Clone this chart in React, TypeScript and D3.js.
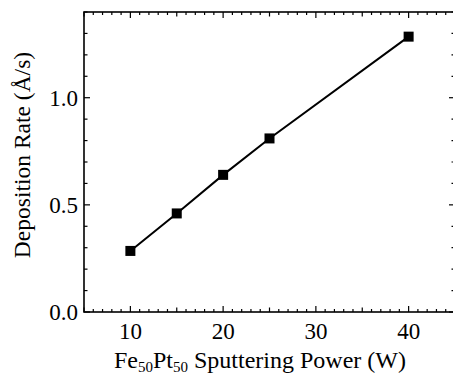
import { useRef, useEffect } from "react"
import * as d3 from "d3"

// data
const powerW = [10, 15, 20, 25, 40]
const rateAs = [0.285, 0.46, 0.64, 0.81, 1.285]
const xTicks = [10, 20, 30, 40]
const yTicks = [0.0, 0.5, 1.0]

const W = 453
const H = 377

const App = () => {
  const svgRef = useRef<SVGSVGElement>(null)

  useEffect(() => {
    const root = d3.select(svgRef.current)
    root.selectAll("*").remove()

    const left = 84, top = 12, right = 455, bottom = 312
    const font = "'Liberation Serif', 'Times New Roman', Times, serif"

    const x = d3.scaleLinear().domain([5, 45]).range([left, right])
    const y = d3.scaleLinear().domain([0, 1.4]).range([bottom, top])

    const g = root.append("g").attr("font-family", font)

    // frame
    g.append("rect")
      .attr("x", left).attr("y", top)
      .attr("width", right - left).attr("height", bottom - top)
      .attr("fill", "none").attr("stroke", "#000").attr("stroke-width", 1.6)

    // x ticks (inward, bottom + top)
    d3.range(5, 46, 1).forEach((v) => {
      const len = v % 10 === 0 ? 6 : v % 5 === 0 ? 4.5 : 3
      g.append("line").attr("x1", x(v)).attr("x2", x(v))
        .attr("y1", bottom).attr("y2", bottom - len)
        .attr("stroke", "#000").attr("stroke-width", 1.2)
      g.append("line").attr("x1", x(v)).attr("x2", x(v))
        .attr("y1", top).attr("y2", top + len)
        .attr("stroke", "#000").attr("stroke-width", 1.2)
    })

    // y ticks (inward, left + right)
    d3.range(0, 1.41, 0.1).forEach((v) => {
      const major = Math.abs(v * 2 - Math.round(v * 2)) < 1e-6
      const len = major ? 6 : 3.5
      g.append("line").attr("x1", left).attr("x2", left + len)
        .attr("y1", y(v)).attr("y2", y(v))
        .attr("stroke", "#000").attr("stroke-width", 1.2)
      g.append("line").attr("x1", right).attr("x2", right - len)
        .attr("y1", y(v)).attr("y2", y(v))
        .attr("stroke", "#000").attr("stroke-width", 1.2)
    })

    // tick labels
    g.selectAll(".xl").data(xTicks).enter().append("text")
      .attr("x", (d) => x(d)).attr("y", 339)
      .attr("text-anchor", "middle")
      .attr("font-size", 23)
      .text((d) => d)

    g.selectAll(".yl").data(yTicks).enter().append("text")
      .attr("x", 78).attr("y", (d) => y(d) + 8)
      .attr("text-anchor", "end")
      .attr("font-size", 23)
      .text((d) => d.toFixed(1))

    // axis titles
    const xt = g.append("text")
      .attr("x", 260).attr("y", 368)
      .attr("text-anchor", "middle")
      .attr("font-size", 24)
    xt.append("tspan").text("Fe")
    xt.append("tspan").attr("dy", 4).attr("font-size", 15).text("50")
    xt.append("tspan").attr("dy", -4).text("Pt")
    xt.append("tspan").attr("dy", 4).attr("font-size", 15).text("50")
    xt.append("tspan").attr("dy", -4).text(" Sputtering Power (W)")

    g.append("text")
      .attr("transform", `translate(30,155) rotate(-90)`)
      .attr("text-anchor", "middle")
      .attr("font-size", 23.5)
      .text("Deposition Rate (Å/s)")

    // line + markers
    const pts = powerW.map((p, i) => [p, rateAs[i]] as [number, number])
    g.append("path")
      .datum(pts)
      .attr("fill", "none").attr("stroke", "#000").attr("stroke-width", 2)
      .attr("d", d3.line<[number, number]>().x((d) => x(d[0])).y((d) => y(d[1])))

    g.selectAll(".m").data(pts).enter().append("rect")
      .attr("x", (d) => x(d[0]) - 5).attr("y", (d) => y(d[1]) - 5)
      .attr("width", 10).attr("height", 10)
      .attr("fill", "#000")
  }, [])

  return (
    <div style={{ position: "absolute", left: 0, top: 0 }}>
      <svg ref={svgRef} width={W} height={H} style={{ display: "block", background: "#fff" }}></svg>
    </div>
  )
}

export default App
